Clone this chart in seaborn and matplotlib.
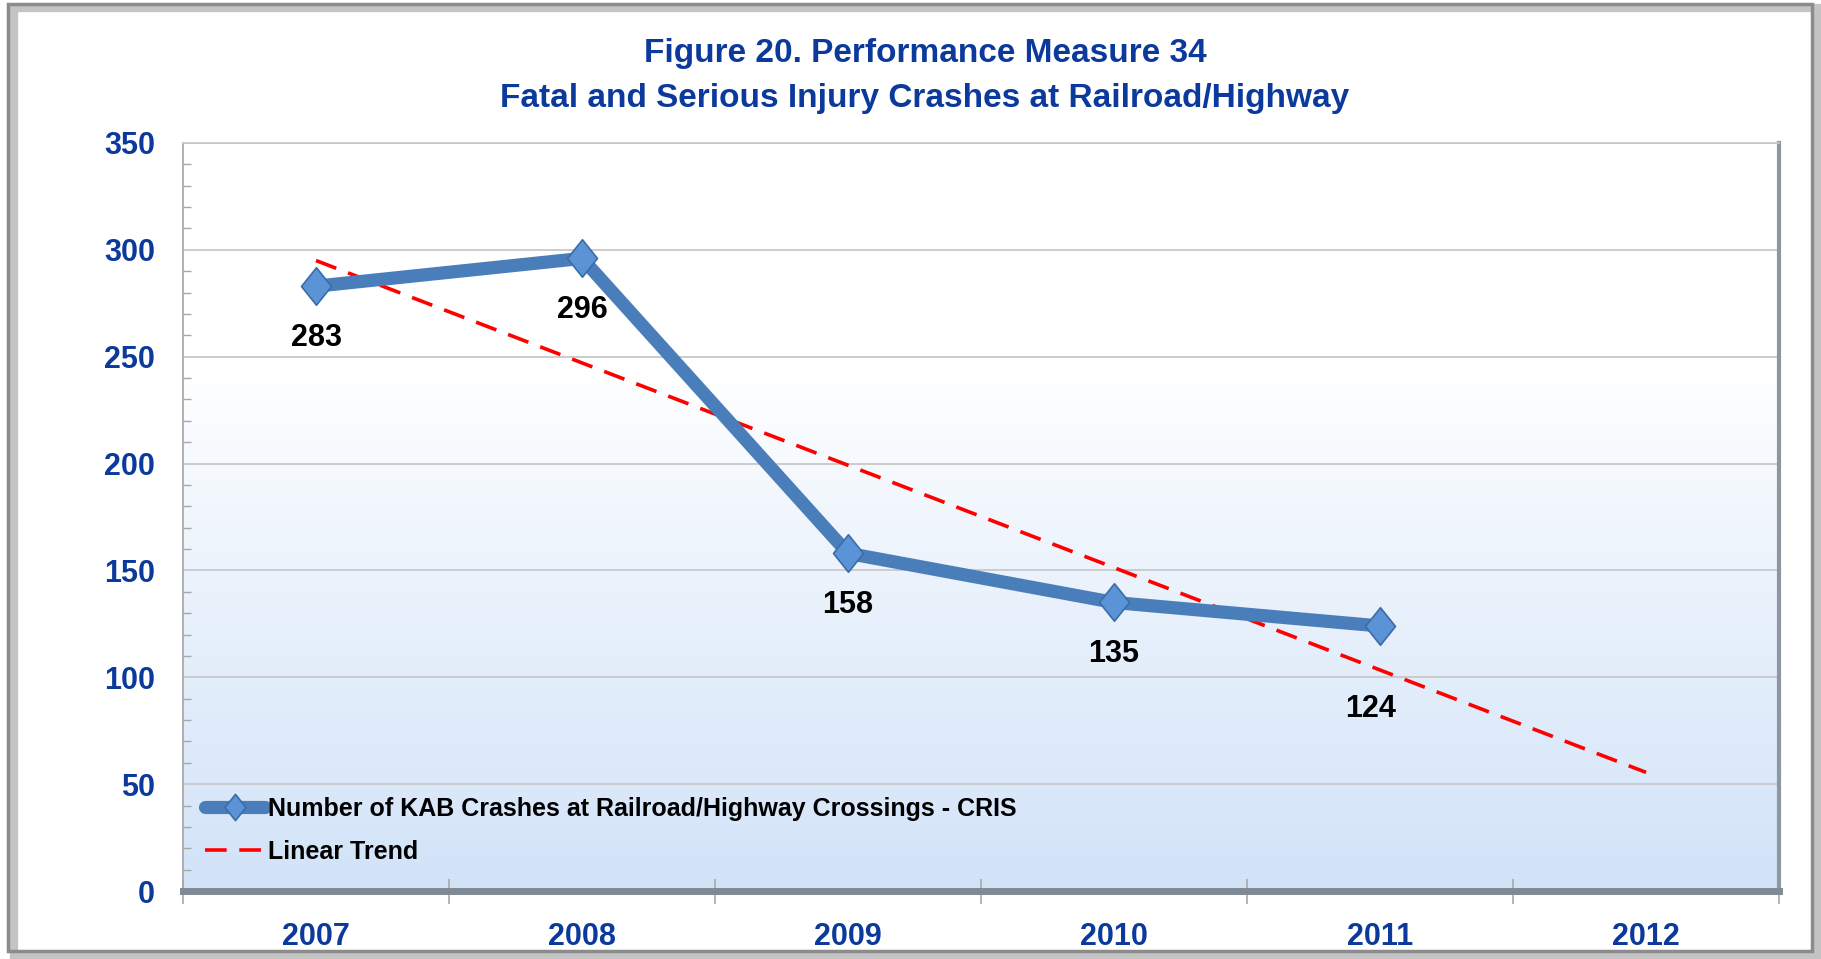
import numpy as np
import pandas as pd
import seaborn as sns
import matplotlib.pyplot as plt
from matplotlib.colors import LinearSegmentedColormap
from matplotlib.patches import Rectangle
from matplotlib.path import Path
from matplotlib.ticker import MultipleLocator, FixedLocator

# Données
years = ['2007', '2008', '2009', '2010', '2011', '2012']
crashes = [283, 296, 158, 135, 124]
series_label = 'Number of KAB Crashes at Railroad/Highway Crossings - CRIS'
trend_label = 'Linear Trend'
title = 'Figure 20. Performance Measure 34\nFatal and Serious Injury Crashes at Railroad/Highway'

sns.set_theme(style="white")
plt.rcParams['font.family'] = ['Liberation Sans', 'DejaVu Sans']
plt.rcParams['font.weight'] = 'bold'

navy = '#0B3A9C'
steel = '#4A7EBB'

df = pd.DataFrame({'pos': np.arange(len(crashes)), 'crashes': crashes})

# tendance linéaire (moindres carrés) prolongée jusqu'à 2012
coef = np.polyfit(df['pos'], df['crashes'], 1)
trend_x = np.arange(len(years))
trend_y = np.polyval(coef, trend_x)

fig = plt.figure(figsize=(18.21, 9.59), dpi=100)
ax = fig.add_axes([0.1005, 0.0709, 0.8765, 0.78])

# fond en dégradé
cmap = LinearSegmentedColormap.from_list(
    'bg', [(0, '#FFFFFF'), (0.3, '#FFFFFF'), (0.6, '#EAF2FC'), (1, '#D2E3F8')])
ax.imshow(np.linspace(0, 1, 256).reshape(-1, 1), cmap=cmap, aspect='auto',
          extent=[0, 1, 0, 1], transform=ax.transAxes, zorder=0)

for v in range(50, 351, 50):
    ax.axhline(v, color='#C8C8C8', lw=1.3, zorder=1)

diamond = Path([(0, 1), (0.8, 0), (0, -1), (-0.8, 0), (0, 1)],
               [Path.MOVETO, Path.LINETO, Path.LINETO, Path.LINETO, Path.CLOSEPOLY])

sns.lineplot(data=df, x='pos', y='crashes', ax=ax, color=steel, lw=9.5,
             marker=diamond, markersize=27, markerfacecolor='#5A93D6',
             markeredgecolor='#3B6CA8', markeredgewidth=1.2,
             label=series_label, zorder=4)
sns.lineplot(x=trend_x, y=trend_y, ax=ax, color='#FF0000', lw=2.6,
             label=trend_label, zorder=3)
ax.lines[-1].set_linestyle((0, (6, 3.5)))

# étiquettes de données
offsets = [-37, -37, -37, -37, -60]
xshift = [0, 0, 0, 0, -7]
for i, v in enumerate(crashes):
    ax.annotate(str(v), (i, v), xytext=(xshift[i], offsets[i]), textcoords='offset points',
                ha='center', va='center', fontsize=22, color='black', fontweight='bold')

ax.set_xlim(-0.5, 5.5)
ax.set_ylim(0, 350)
ax.set_xticks(range(len(years)))
ax.set_xticklabels(years)
ax.xaxis.set_minor_locator(FixedLocator(np.arange(-0.5, 5.6, 1)))
ax.yaxis.set_major_locator(MultipleLocator(50))
ax.yaxis.set_minor_locator(MultipleLocator(10))
ax.tick_params(axis='x', which='major', length=0, pad=22, labelsize=22, labelcolor=navy)
ax.tick_params(axis='x', which='minor', length=18, direction='inout', color='#A8A8A8', width=1.2, bottom=True)
ax.tick_params(axis='y', which='major', length=0, pad=20, labelsize=22, labelcolor=navy)
ax.tick_params(axis='y', which='minor', length=6, direction='in', color='#A8A8A8', width=1, left=True)
for lab in ax.get_xticklabels() + ax.get_yticklabels():
    lab.set_fontweight('bold')
ax.set_xlabel('')
ax.set_ylabel('')

ax.spines['left'].set_color('#A8A8A8')
ax.spines['top'].set_color('#C8C8C8')
ax.spines['right'].set_color('#8E979F')
ax.spines['right'].set_linewidth(3)
ax.spines['bottom'].set_color('#7F8A96')
ax.spines['bottom'].set_linewidth(5)

leg = ax.legend(loc='lower left', bbox_to_anchor=(0.006, 0.02), frameon=False,
                fontsize=18, handlelength=2.4, handletextpad=0.1, labelspacing=0.75,
                borderpad=0, markerscale=0.7)
for t in leg.get_texts():
    t.set_fontweight('bold')
    t.set_color('black')

fig.text(0.508, 0.921, title, ha='center', va='center', fontsize=24,
         fontweight='bold', color=navy, linespacing=1.6)

# cadre de la figure avec ombre
fig.patches.append(Rectangle((0.0075, 0.0045), 0.9905, 0.9875, transform=fig.transFigure,
                             fill=False, edgecolor='#C4C4C4', lw=6, zorder=0))
fig.patches.append(Rectangle((0.0045, 0.008), 0.9905, 0.9875, transform=fig.transFigure,
                             fill=False, edgecolor='#8C8C8C', lw=2.5, zorder=1))

fig.savefig('out.png', dpi=100)
